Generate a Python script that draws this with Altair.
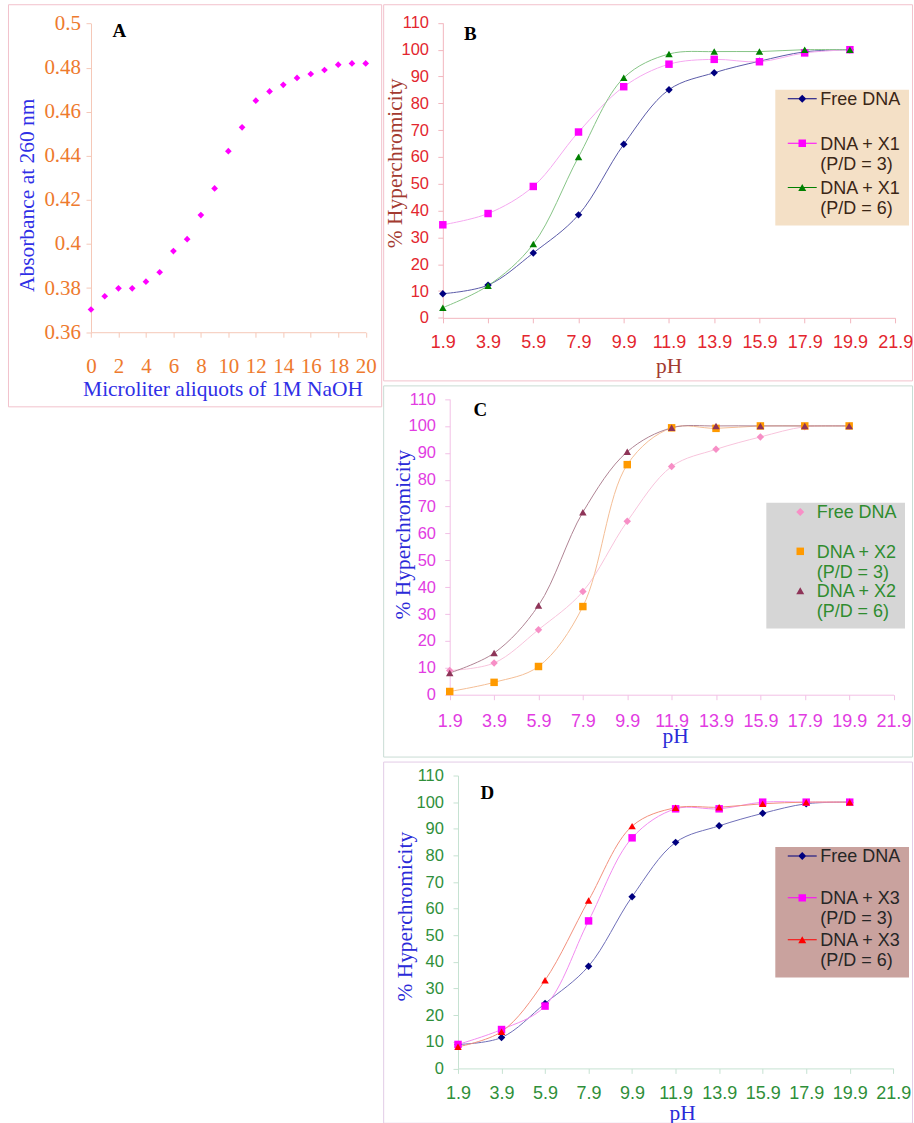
import altair as alt
import pandas as pd

SANS = "Liberation Sans"
SERIF = "Liberation Serif"

# ---------------- Panel A: absorbance during NaOH titration ----------------
naoh_aliquots = [0, 1, 2, 3, 4, 5, 6, 7, 8, 9, 10, 11, 12, 13, 14, 15, 16, 17, 18, 19, 20]
absorbance_260 = [0.3703, 0.3763, 0.3799, 0.3799, 0.3829, 0.3872, 0.3968, 0.4022,
                  0.4131, 0.4252, 0.4421, 0.4529, 0.4650, 0.4692, 0.4722, 0.4753,
                  0.4771, 0.4789, 0.4813, 0.4819, 0.4819]
aliquot_ticks = [0, 2, 4, 6, 8, 10, 12, 14, 16, 18, 20]
absorbance_ticks = [0.36, 0.38, 0.40, 0.42, 0.44, 0.46, 0.48, 0.50]

# ---------------- Panels B-D: % hyperchromicity vs pH ----------------
ph_values = [1.9, 3.9, 5.9, 7.9, 9.9, 11.9, 13.9, 15.9, 17.9, 19.9]
ph_ticks = [1.9, 3.9, 5.9, 7.9, 9.9, 11.9, 13.9, 15.9, 17.9, 19.9, 21.9]
hyper_ticks = [0, 10, 20, 30, 40, 50, 60, 70, 80, 90, 100, 110]

b_names = ["Free DNA", "DNA + X1 (P/D = 3)", "DNA + X1 (P/D = 6)"]
b_free = [9.0, 12.2, 24.2, 38.4, 64.7, 85.1, 91.4, 95.7, 99.2, 100]
b_pd3 = [34.7, 38.9, 49.0, 69.3, 86.2, 94.6, 96.4, 95.5, 98.8, 100]
b_pd6 = [3.8, 12.0, 27.5, 60.0, 89.5, 98.4, 99.3, 99.3, 100, 100]

c_names = ["Free DNA", "DNA + X2 (P/D = 3)", "DNA + X2 (P/D = 6)"]
c_free = [9.0, 11.8, 24.2, 38.4, 64.5, 84.9, 91.3, 95.9, 99.7, 100]
c_pd3 = [1.2, 4.6, 10.5, 32.8, 85.6, 99.3, 99.1, 100, 100, 100]
c_pd6 = [8.1, 15.5, 33.2, 67.9, 90.4, 99.3, 100, 100, 100, 100]

d_names = ["Free DNA", "DNA + X3 (P/D = 3)", "DNA + X3 (P/D = 6)"]
d_free = [9.0, 11.6, 24.4, 38.4, 64.5, 84.9, 91.1, 95.8, 99.4, 100]
d_pd3 = [9.0, 14.6, 23.4, 55.4, 86.6, 97.5, 97.5, 100, 100, 100]
d_pd6 = [8.1, 13.8, 33.1, 63.1, 91.0, 97.9, 98.1, 99.4, 100, 100]

# panel letters, placed in data units of each panel
letter_a = {"aliquot": [2.06], "absorbance": [0.4968], "tag": ["A"]}
letter_b = {"pH": [3.12], "value": [106.0], "tag": ["B"]}
letter_c = {"pH": [3.28], "value": [106.0], "tag": ["C"]}
letter_d = {"pH": [3.25], "value": [103.4], "tag": ["D"]}

# marker shapes used in the plots
plot_shapes = ["diamond", "square", "triangle-up"]

# legend keys (unit = 5 px): a short line through the marker, or the marker alone;
# drawn slightly above the symbol anchor so they sit level with the first label line
KEY_LINE = "M-2.9,-1.38H2.9V-1.18H-2.9Z "
KEY_DIAMOND = "M0,-2.08L0.8,-1.28L0,-0.48L-0.8,-1.28Z"
KEY_SQUARE = "M-0.75,-2.03H0.75V-0.53H-0.75Z"
KEY_TRIANGLE = "M0,-2.0L0.8,-0.6H-0.8Z"
keys_with_line = [KEY_LINE + KEY_DIAMOND, KEY_LINE + KEY_SQUARE, KEY_LINE + KEY_TRIANGLE]
keys_plain = [KEY_DIAMOND, KEY_SQUARE, KEY_TRIANGLE]


def title_props(color):
    return dict(titleFont=SERIF, titleFontSize=21.5, titleFontWeight="normal",
                titleColor=color, titleBaseline="middle", titleAlign="center")


def panel_a():
    W, H = 374, 403
    x0, x1, yb, yt = 83.2, 358.5, 328.7, 19.3
    tick_c, axis_c, title_c = "#EE7A2E", "#F5C8B8", "#2F2FE6"
    df = pd.DataFrame({"aliquot": naoh_aliquots, "absorbance": absorbance_260})
    x = alt.X("aliquot:Q",
              scale=alt.Scale(domain=[0, 20], range=[x0, x1], nice=False, zero=False),
              axis=alt.Axis(values=aliquot_ticks, tickCount=30, format="d",
                            title="Microliter aliquots of 1M NaOH",
                            offset=yb - H, grid=False, domainColor=axis_c, tickColor=axis_c,
                            tickSize=5, labelColor=tick_c, labelFont=SERIF, labelFontSize=21,
                            labelPadding=18.5, labelBaseline="top", labelFlush=False,
                            labelOverlap=False, titleX=215, titleY=57.5,
                            **title_props(title_c)))
    y = alt.Y("absorbance:Q",
              scale=alt.Scale(domain=[0.36, 0.5], range=[yb, yt], nice=False, zero=False),
              axis=alt.Axis(values=absorbance_ticks, tickCount=30, format="~g",
                            title="Absorbance at 260 nm",
                            offset=-x0, grid=False, domainColor=axis_c, tickColor=axis_c,
                            tickSize=5, labelColor=tick_c, labelFont=SERIF, labelFontSize=21,
                            labelPadding=5.5, labelFlush=False, labelOverlap=False,
                            titleX=-63.7, titleY=191, **title_props(title_c)))
    pts = alt.Chart(df).mark_point(filled=True, opacity=1, size=45, shape="diamond",
                                   color="#FF00FF").encode(x=x, y=y)
    tag = alt.Chart(pd.DataFrame(letter_a)).mark_text(
        font=SERIF, fontSize=19, fontWeight="bold", color="black",
        align="center", baseline="middle").encode(x="aliquot:Q", y="absorbance:Q", text="tag:N")
    return alt.layer(pts, tag).properties(
        width=W, height=H, view=alt.ViewBackground(stroke="#F2C2CC", strokeWidth=1, fill="white"))


def ph_panel(names, series, letter, marker_colors, line_colors, key_shapes,
             W, H, plot, frame_c, tick_c, axis_c, title_c, title_pos, label_pad,
             legend_opts):
    x0, x1, yb, yt = plot
    rows = []
    for name, vals in zip(names, series):
        for p, v in zip(ph_values, vals):
            rows.append({"pH": p, "value": v, "series": name})
    df = pd.DataFrame(rows)
    ytx, yty, xtx, xty = title_pos
    x = alt.X("pH:Q",
              scale=alt.Scale(domain=[1.9, 21.9], range=[x0, x1], nice=False, zero=False),
              axis=alt.Axis(values=ph_ticks, tickCount=30, format=".1f", title="pH",
                            offset=yb - H,
                            grid=False, domainColor=axis_c, tickColor=axis_c, tickSize=5,
                            labelColor=tick_c, labelFont=SANS, labelFontSize=18,
                            labelPadding=label_pad[0], labelBaseline="middle",
                            labelFlush=False, labelOverlap=False,
                            titleX=xtx, titleY=xty, **title_props(title_c)))
    y = alt.Y("value:Q",
              scale=alt.Scale(domain=[0, 110], range=[yb, yt], nice=False, zero=False),
              axis=alt.Axis(values=hyper_ticks, tickCount=30, format="d",
                            title="% Hyperchromicity", offset=-x0,
                            grid=False, domainColor=axis_c, tickColor=axis_c, tickSize=5,
                            labelColor=tick_c, labelFont=SANS, labelFontSize=16.5,
                            labelPadding=label_pad[1], labelFlush=False, labelOverlap=False,
                            titleX=ytx, titleY=yty, **title_props(title_c)))

    curves = alt.Chart(df).mark_line(interpolate="catmull-rom", strokeWidth=1).encode(
        x=x, y=y,
        color=alt.Color("series:N", scale=alt.Scale(domain=names, range=line_colors),
                        legend=None))
    markers = alt.Chart(df).mark_point(filled=True, opacity=1, size=56, strokeWidth=0).encode(
        x="pH:Q", y="value:Q",
        color=alt.Color("series:N", scale=alt.Scale(domain=names, range=marker_colors),
                        legend=None),
        shape=alt.Shape("series:N", scale=alt.Scale(domain=names, range=plot_shapes),
                        legend=None))

    leg = alt.Legend(title=None, orient="none", labelFont=SANS, labelFontSize=18,
                     labelBaseline="alphabetic", labelLimit=400, gridAlign="all",
                     symbolSize=100, symbolStrokeWidth=0, strokeColor="transparent",
                     padding=7,
                     labelExpr="split(replace(datum.label, ' (', '|('), '|')",
                     **legend_opts)
    key = alt.Chart(df).transform_filter("false").mark_point(
        filled=True, opacity=1, size=100, strokeWidth=0).encode(
        x="pH:Q", y="value:Q",
        color=alt.Color("series:N", scale=alt.Scale(domain=names, range=marker_colors),
                        legend=leg),
        shape=alt.Shape("series:N", scale=alt.Scale(domain=names, range=key_shapes),
                        legend=leg))
    tag = alt.Chart(pd.DataFrame(letter)).mark_text(
        font=SERIF, fontSize=19, fontWeight="bold", color="black",
        align="center", baseline="middle").encode(x="pH:Q", y="value:Q", text="tag:N")

    return alt.layer(curves, markers, key, tag).resolve_scale(
        color="independent", shape="independent").properties(
        width=W, height=H, view=alt.ViewBackground(stroke=frame_c, strokeWidth=1, fill="white"))


panel_b = ph_panel(
    b_names, [b_free, b_pd3, b_pd6], letter_b,
    marker_colors=["#00007F", "#FF00FF", "#008000"],
    line_colors=["#5A5AA8", "#F5A8F0", "#86C486"],
    key_shapes=keys_with_line,
    W=530, H=377, plot=(59.8, 513.1, 314.3, 18.7),
    frame_c="#F2C2CC", tick_c="#E3262E", axis_c="#F2B6BE", title_c="#A33A30",
    title_pos=(-47.8, 159, 286.1, 48.4), label_pad=(20, 9.4),
    legend_opts=dict(legendX=392.5, legendY=85.2, symbolOffset=11.5,
                     labelOffset=9.1, rowPadding=6.5, fillColor="#F4E0C6",
                     labelColor="#3B2616"))

panel_c = ph_panel(
    c_names, [c_free, c_pd3, c_pd6], letter_c,
    marker_colors=["#F78FC6", "#FF9A00", "#8E3458"],
    line_colors=["#F8C4DC", "#F4BE96", "#B08494"],
    key_shapes=keys_plain,
    W=530, H=372, plot=(66.7, 511.5, 310.0, 13.7),
    frame_c="#C9DCD4", tick_c="#E23CE2", axis_c="#F2C0E6", title_c="#2A2AD8",
    title_pos=(-46.7, 149, 292.5, 42), label_pad=(22, 9.3),
    legend_opts=dict(legendX=383.5, legendY=117.2, symbolOffset=18.5,
                     labelOffset=7.5, rowPadding=1.5, fillColor="#D6D6D6",
                     labelColor="#2F8C2F"))

panel_d = ph_panel(
    d_names, [d_free, d_pd3, d_pd6], letter_d,
    marker_colors=["#00007F", "#FF00FF", "#FF0000"],
    line_colors=["#6E6EB8", "#F28CF0", "#F2907C"],
    key_shapes=keys_with_line,
    W=530, H=362, plot=(75.0, 511.2, 307.5, 14.0),
    frame_c="#E2CCE6", tick_c="#2F8F3A", axis_c="#C6E2D2", title_c="#2A2AD8",
    title_pos=(-53, 155, 299.5, 44.8), label_pad=(20, 9.6),
    legend_opts=dict(legendX=392.5, legendY=85, symbolOffset=11.5,
                     labelOffset=9.1, rowPadding=4, fillColor="#C9A29E",
                     labelColor="#262626"))

chart = alt.hconcat(
    panel_a(),
    alt.vconcat(panel_b, panel_c, panel_d, spacing=3),
    spacing=0,
).properties(
    padding={"left": 7, "top": 2, "right": 0, "bottom": 0},
    background="white",
)

chart.save("out.html", embed_options={"renderer": "svg", "actions": False})
